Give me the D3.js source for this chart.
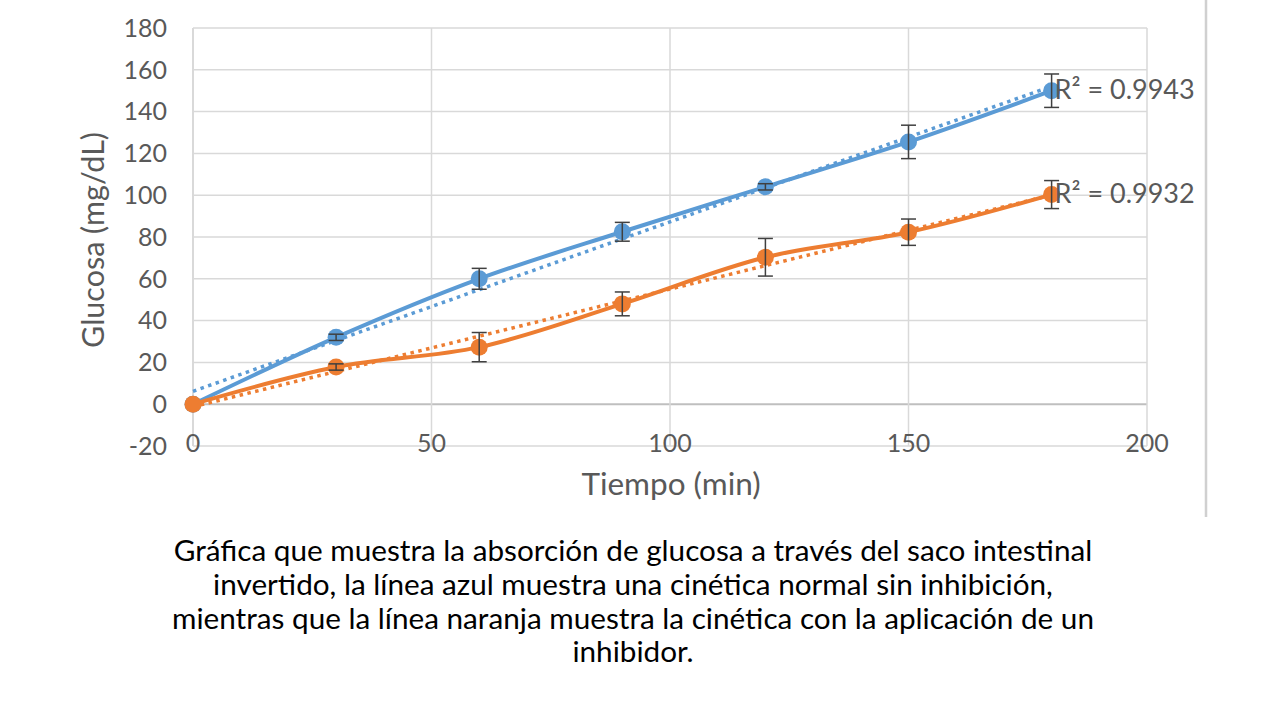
<!DOCTYPE html>
<html>
<head>
<meta charset="utf-8">
<script src="https://cdn.jsdelivr.net/npm/d3@7"></script>
<style>
  body { margin: 0; background: #fff; }
  svg { display: block; }
</style>
</head>
<body>
<svg width="1280" height="720"></svg>
<script>
// data
const tiempo = [0, 30, 60, 90, 120, 150, 180];
const normal = [0, 32, 60, 82.5, 104, 125.5, 150];
const normalErr = [0, 1.5, 5, 4.5, 1.5, 8, 8];
const inhibido = [0, 17.8, 27.3, 48, 70.3, 82.3, 100.3];
const inhibidoErr = [0, 1.5, 7, 5.7, 9, 6.3, 6.7];
const r2Labels = ["R² = 0.9943", "R² = 0.9932"];
const xTicks = [0, 50, 100, 150, 200];
const yTicks = [-20, 0, 20, 40, 60, 80, 100, 120, 140, 160, 180];
const caption = [
    "Gráfica que muestra la absorción de glucosa a través del saco intestinal",
    "invertido, la línea azul muestra una cinética normal sin inhibición,",
    "mientras que la línea naranja muestra la cinética con la aplicación de un",
    "inhibidor."
];

const svg = d3.select("svg");
const font = "Lato, 'Open Sans', sans-serif";
const grey = "#595959";

const x = d3.scaleLinear().domain([0, 200]).range([193, 1147]);
const y = d3.scaleLinear().domain([-20, 180]).range([446, 28]);

// gridlines
svg.append("g").selectAll("line").data(yTicks).join("line")
    .attr("x1", x(0)).attr("x2", x(200))
    .attr("y1", d => y(d)).attr("y2", d => y(d))
    .attr("stroke", d => d === 0 ? "#bfbfbf" : "#d9d9d9")
    .attr("stroke-width", d => d === 0 ? 2 : 1.5);

svg.append("g").selectAll("line").data(xTicks).join("line")
    .attr("x1", d => x(d)).attr("x2", d => x(d))
    .attr("y1", y(180)).attr("y2", y(-20))
    .attr("stroke", "#d9d9d9")
    .attr("stroke-width", d => d === 0 ? 2 : 1.5);

// tick labels
svg.append("g").selectAll("text").data(yTicks).join("text")
    .attr("x", 167).attr("y", d => y(d))
    .attr("dy", "0.35em")
    .attr("text-anchor", "end")
    .attr("font-family", font).attr("font-size", 25)
    .attr("fill", grey)
    .text(d => d);

svg.append("g").selectAll("text").data(xTicks).join("text")
    .attr("x", d => x(d)).attr("y", 443)
    .attr("dy", "0.35em")
    .attr("text-anchor", "middle")
    .attr("font-family", font).attr("font-size", 25)
    .attr("fill", grey)
    .text(d => d);

// axis titles
svg.append("text")
    .attr("x", 671).attr("y", 484).attr("dy", "0.35em")
    .attr("text-anchor", "middle")
    .attr("font-family", font).attr("font-size", 31.5)
    .attr("fill", grey)
    .text("Tiempo (min)");

svg.append("text")
    .attr("transform", "translate(93,240) rotate(-90)")
    .attr("dy", "0.35em")
    .attr("text-anchor", "middle")
    .attr("font-family", font).attr("font-size", 30.5)
    .attr("fill", grey)
    .text("Glucosa (mg/dL)");

// least squares trend
function fit(xs, ys) {
    const mx = d3.mean(xs), my = d3.mean(ys);
    const b = d3.sum(xs, (v, i) => (v - mx) * (ys[i] - my)) / d3.sum(xs, v => (v - mx) ** 2);
    return { b, a: my - b * mx };
}

const series = [
    { vals: normal, err: normalErr, color: "#5b9bd5", label: r2Labels[0] },
    { vals: inhibido, err: inhibidoErr, color: "#ed7d31", label: r2Labels[1] }
];

const line = d3.line()
    .x(d => x(d[0]))
    .y(d => y(d[1]))
    .curve(d3.curveCatmullRom.alpha(0.5));

series.forEach(s => {
    const pts = tiempo.map((t, i) => [t, s.vals[i]]);
    const f = fit(tiempo, s.vals);
    const g = svg.append("g");

    g.append("line")
        .attr("x1", x(0)).attr("y1", y(f.a))
        .attr("x2", x(180)).attr("y2", y(f.a + f.b * 180))
        .attr("stroke", s.color)
        .attr("stroke-width", 3.5)
        .attr("stroke-dasharray", "3.5 4.5");

    g.append("path")
        .attr("d", line(pts))
        .attr("fill", "none")
        .attr("stroke", s.color)
        .attr("stroke-width", 4);

    g.selectAll("circle").data(pts).join("circle")
        .attr("cx", d => x(d[0])).attr("cy", d => y(d[1]))
        .attr("r", 8.5)
        .attr("fill", s.color);

    // error bars
    const eb = g.selectAll("g.err").data(pts.map((p, i) => [p[0], p[1], s.err[i]]).filter(d => d[2] > 0))
        .join("g").attr("class", "err")
        .attr("stroke", "#404040").attr("stroke-width", 1.5);
    eb.append("line")
        .attr("x1", d => x(d[0])).attr("x2", d => x(d[0]))
        .attr("y1", d => y(d[1] - d[2])).attr("y2", d => y(d[1] + d[2]));
    eb.append("line")
        .attr("x1", d => x(d[0]) - 7.5).attr("x2", d => x(d[0]) + 7.5)
        .attr("y1", d => y(d[1] + d[2])).attr("y2", d => y(d[1] + d[2]));
    eb.append("line")
        .attr("x1", d => x(d[0]) - 7.5).attr("x2", d => x(d[0]) + 7.5)
        .attr("y1", d => y(d[1] - d[2])).attr("y2", d => y(d[1] - d[2]));

    g.append("text")
        .attr("x", x(180) + 3).attr("y", y(s.vals[6]) - 1)
        .attr("dy", "0.35em")
        .attr("font-family", font).attr("font-size", 27)
        .attr("fill", grey)
        .text(s.label);
});

// frame line on the right
svg.append("line")
    .attr("x1", 1206).attr("x2", 1206)
    .attr("y1", 0).attr("y2", 517)
    .attr("stroke", "#d0d0d0").attr("stroke-width", 2.5);

// caption
svg.append("g").selectAll("text").data(caption).join("text")
    .attr("x", 633).attr("y", (d, i) => 551 + i * 33.7)
    .attr("dy", "0.35em")
    .attr("text-anchor", "middle")
    .attr("font-family", font).attr("font-size", 29.7)
    .attr("fill", "#000")
    .text(d => d);
</script>
</body>
</html>
